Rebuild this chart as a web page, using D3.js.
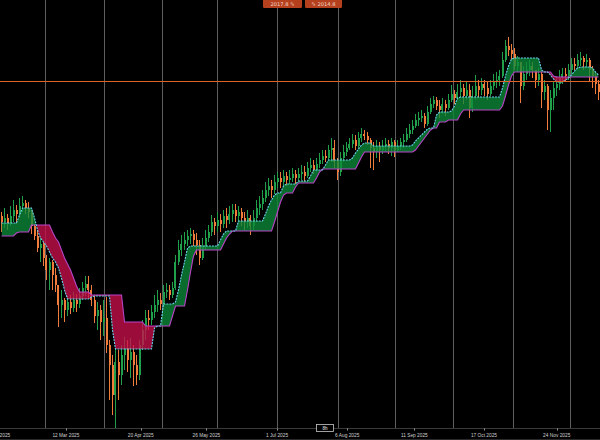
<!DOCTYPE html>
<html><head><meta charset="utf-8">
<script src="https://cdn.jsdelivr.net/npm/d3@7"></script>
<style>html,body{margin:0;padding:0;background:#000;overflow:hidden}</style>
</head><body><svg id="c" width="600" height="440"></svg>
<script>
// ---------------- DATA ----------------
const opens = [
1884,1878,1882,1876,1884,1890,1886,1894,1897,1892,
1888,1874,1864,1852,1856,1842,1830,1838,1825,1815,
1795,1800,1790,1798,1792,1800,1796,1804,1812,1816,
1810,1800,1784,1790,1778,1782,1755,1735,1705,1738,
1725,1745,1752,1740,1748,1735,1725,1755,1770,1782,
1780,1788,1795,1800,1796,1808,1810,1805,1812,1838,
1850,1856,1860,1864,1866,1860,1855,1842,1854,1862,
1868,1878,1874,1880,1876,1884,1880,1886,1890,1884,
1888,1882,1878,1882,1874,1882,1892,1896,1902,1910,
1914,1910,1918,1922,1918,1924,1920,1922,1926,1922,
1926,1928,1924,1932,1935,1930,1936,1940,1944,1942,
1950,1952,1938,1928,1942,1948,1952,1956,1960,1954,
1962,1966,1964,1960,1952,1948,1954,1950,1954,1956,
1952,1958,1950,1954,1958,1960,1966,1970,1974,1980,
1982,1984,1976,1988,1996,2000,1994,1990,1996,1992,
2000,2006,2002,2008,2012,2004,2010,1992,2004,2014,
2010,2016,2012,2006,2014,2018,2020,2024,2040,2054,
2050,2046,2034,2038,2014,2026,2030,2034,2030,2020,
2026,2008,2014,1990,2002,2012,2016,2022,2026,2024,
2030,2036,2034,2040,2042,2038,2040,2030,2024,2016];
const highs = [
1888,1892,1886,1894,1900,1895,1902,1904,1900,1898,
1890,1876,1870,1862,1858,1845,1842,1840,1832,1815,
1810,1802,1804,1805,1808,1806,1812,1818,1824,1824,
1815,1804,1798,1795,1800,1803,1760,1745,1752,1750,
1755,1763,1760,1762,1755,1745,1760,1780,1790,1790,
1795,1805,1810,1807,1815,1817,1815,1818,1845,1860,
1865,1868,1870,1872,1870,1867,1860,1862,1870,1875,
1885,1882,1888,1886,1890,1892,1894,1896,1896,1894,
1892,1888,1890,1885,1890,1900,1904,1910,1918,1922,
1920,1925,1928,1928,1930,1928,1930,1932,1930,1932,
1935,1934,1938,1942,1940,1942,1947,1950,1950,1955,
1962,1960,1942,1948,1955,1958,1962,1966,1965,1968,
1972,1970,1968,1962,1958,1960,1958,1960,1962,1960,
1962,1960,1960,1962,1966,1972,1976,1980,1986,1988,
1990,1987,1994,2002,2004,2003,2000,2002,2000,2006,
2015,2010,2016,2020,2016,2018,2016,2014,2025,2020,
2022,2020,2018,2020,2026,2028,2030,2048,2060,2063,
2056,2052,2044,2038,2034,2038,2040,2038,2030,2032,
2028,2020,2016,2010,2018,2024,2030,2032,2032,2036,
2042,2042,2046,2048,2044,2046,2042,2034,2028,2020];
const lows = [
1868,1872,1870,1874,1878,1876,1882,1888,1886,1882,
1866,1860,1848,1838,1834,1820,1810,1810,1808,1773,
1782,1778,1784,1786,1788,1788,1792,1800,1804,1802,
1794,1777,1770,1760,1764,1747,1700,1685,1672,1700,
1715,1730,1728,1722,1714,1715,1720,1750,1760,1770,
1775,1782,1788,1790,1794,1802,1800,1802,1810,1835,
1844,1850,1854,1856,1854,1845,1835,1840,1850,1858,
1864,1865,1868,1868,1872,1872,1876,1878,1878,1878,
1874,1870,1872,1865,1870,1878,1885,1890,1898,1904,
1902,1906,1912,1912,1914,1914,1916,1918,1916,1918,
1920,1918,1922,1928,1926,1928,1932,1936,1938,1940,
1938,1932,1920,1924,1938,1944,1950,1952,1950,1952,
1958,1960,1955,1932,1930,1942,1938,1946,1948,1946,
1944,1943,1948,1950,1952,1958,1962,1966,1972,1974,
1978,1972,1974,1986,1992,1990,1982,1986,1984,1990,
1998,1996,2000,2002,1996,2000,1982,1988,2000,2002,
2005,2004,2000,2004,2010,2012,2014,2022,2038,2044,
2040,2030,2028,1997,2010,2020,2024,2022,2012,2014,
1992,2000,1970,1968,1990,2004,2010,2016,2018,2020,
2026,2030,2032,2034,2030,2032,2018,2012,2006,2000];
const closes = [
1878,1882,1876,1884,1890,1886,1894,1897,1892,1888,
1874,1864,1852,1856,1842,1830,1838,1825,1815,1795,
1800,1790,1798,1792,1800,1796,1804,1812,1816,1810,
1800,1784,1790,1778,1782,1755,1735,1705,1738,1725,
1745,1752,1740,1748,1735,1725,1755,1770,1782,1780,
1788,1795,1800,1796,1808,1810,1805,1812,1838,1850,
1856,1860,1864,1866,1860,1855,1842,1854,1862,1868,
1878,1874,1880,1876,1884,1880,1886,1890,1884,1888,
1882,1878,1882,1874,1882,1892,1896,1902,1910,1914,
1910,1918,1922,1918,1924,1920,1922,1926,1922,1926,
1928,1924,1932,1935,1930,1936,1940,1944,1942,1950,
1952,1938,1928,1942,1948,1952,1956,1960,1954,1962,
1966,1964,1960,1952,1948,1954,1950,1954,1956,1952,
1958,1950,1954,1958,1960,1966,1970,1974,1980,1982,
1984,1976,1988,1996,2000,1994,1990,1996,1992,2000,
2006,2002,2008,2012,2004,2010,1992,2004,2014,2010,
2016,2012,2006,2014,2018,2020,2024,2040,2054,2050,
2046,2034,2038,2014,2026,2030,2034,2030,2020,2026,
2008,2014,1990,2002,2012,2016,2022,2026,2024,2030,
2036,2034,2040,2042,2038,2040,2030,2024,2016,2008];
// cloud lines: fast (cyan) and slow (magenta)
const fastSpan = [
1877,1877,1877,1877,1877,1877,1885,1892,1892,1892,
1892,1882,1870,1862,1858,1854,1848,1842,1838,1832,
1822,1810,1801,1801,1801,1801,1801,1801,1801,1801,
1803,1804,1804,1804,1804,1804,1804,1770,1751,1751,
1751,1751,1751,1751,1751,1751,1751,1751,1751,1751,
1751,1772,1774,1774,1796,1796,1796,1796,1798,1810,
1825,1838,1852,1854,1854,1854,1854,1854,1854,1854,
1854,1854,1854,1860,1866,1869,1869,1869,1869,1879,
1879,1879,1879,1879,1879,1879,1879,1879,1886,1894,
1900,1905,1907,1907,1914,1916,1916,1916,1916,1919,
1919,1919,1919,1924,1930,1930,1930,1930,1935,1940,
1940,1940,1940,1940,1940,1940,1940,1942,1947,1951,
1955,1957,1957,1957,1954,1954,1954,1954,1954,1954,
1954,1954,1954,1954,1954,1954,1954,1955,1959,1962,
1965,1968,1971,1972,1972,1985,1988,1988,1988,1988,
1989,1994,2002,2003,2003,2003,2003,2003,2003,2003,
2003,2003,2003,2003,2003,2003,2003,2012,2024,2034,
2041,2042,2042,2042,2042,2042,2042,2042,2042,2042,
2030,2028,2028,2025,2021,2018,2018,2018,2020,2022,
2025,2029,2032,2033,2033,2033,2033,2032,2028,2025];
const slowSpan = [
1864,1864,1864,1864,1864,1867,1868,1868,1868,1868,
1875,1875,1875,1875,1875,1875,1875,1868,1862,1858,
1850,1842,1836,1830,1822,1814,1808,1808,1808,1808,
1805,1805,1805,1805,1805,1805,1805,1805,1805,1805,
1805,1778,1778,1778,1778,1778,1778,1778,1774,1774,
1774,1774,1774,1774,1774,1774,1774,1784,1794,1794,
1794,1794,1810,1828,1844,1850,1850,1850,1850,1850,
1850,1850,1850,1850,1856,1862,1866,1869,1869,1869,
1869,1869,1869,1869,1869,1869,1869,1869,1869,1869,
1869,1878,1888,1898,1905,1907,1907,1907,1913,1917,
1917,1917,1917,1917,1917,1922,1928,1931,1931,1931,
1931,1931,1931,1931,1931,1931,1931,1931,1931,1937,
1943,1948,1948,1948,1948,1948,1948,1948,1948,1948,
1948,1948,1948,1948,1948,1948,1948,1948,1950,1954,
1958,1962,1966,1970,1972,1972,1978,1978,1978,1980,
1980,1980,1980,1986,1990,1990,1990,1990,1990,1990,
1990,1990,1990,1990,1990,1990,1990,1994,2004,2015,
2024,2028,2028,2028,2028,2028,2028,2028,2028,2028,
2028,2028,2028,2028,2024,2023,2023,2023,2023,2023,
2023,2023,2023,2023,2023,2023,2023,2023,2023,2023];
const lastPrice = 2019.5;
const monthStarts = ["2025-03-01","2025-04-01","2025-05-01","2025-06-01","2025-07-01",
  "2025-08-01","2025-09-01","2025-10-01","2025-11-01","2025-12-01"];
const tickDates = ["2025-02-04","2025-03-12","2025-04-20","2025-05-26","2025-07-01",
  "2025-08-06","2025-09-11","2025-10-17","2025-11-24"];
const tickLabels = ["4 Feb 2025","12 Mar 2025","20 Apr 2025","26 May 2025","1 Jul 2025",
  "6 Aug 2025","11 Sep 2025","17 Oct 2025","24 Nov 2025"];
const rangeLabels = ["2017.8 \u270E", "\u270E 2014.8"];
const intervalLabel = "8h";

// ---------------- CHART ----------------
const W = 600, H = 440, plotBottom = 428;
const svg = d3.select("#c");
svg.append("rect").attr("width", W).attr("height", H).attr("fill", "#000");

const n = closes.length;
const x = d3.scaleLinear().domain([0, n - 1]).range([1.5, W - 1.5]);
const y = d3.scaleLinear().domain([1660, 2100]).range([H, 0]);
const pd = d3.utcParse("%Y-%m-%d");
// calendar axis calibrated at month boundaries
const t = d3.scaleUtc()
  .domain([pd("2025-02-05")].concat(monthStarts.map(pd), [pd("2025-12-16")]))
  .range([0, 45, 104, 162, 217, 277, 338, 395, 453, 513, 570, 600]);

const defs = svg.append("defs");
defs.append("clipPath").attr("id", "plot").append("rect")
  .attr("x", 0).attr("y", 0).attr("width", W).attr("height", plotBottom);

const plot = svg.append("g").attr("clip-path", "url(#plot)");

// month grid
plot.append("g").selectAll("line").data(monthStarts).join("line")
  .attr("x1", d => Math.round(t(pd(d))) + 0.5).attr("x2", d => Math.round(t(pd(d))) + 0.5)
  .attr("y1", 0).attr("y2", plotBottom)
  .attr("stroke", "#5e5e5e").attr("stroke-width", 1);

// candles
const idx = d3.range(n);
const up = i => closes[i] >= opens[i];
const cUp = "#21a04c", cDn = "#f07d3c";
const cg = plot.append("g");
cg.selectAll("line").data(idx).join("line")
  .attr("x1", i => Math.round(x(i) - 0.5) + 0.5).attr("x2", i => Math.round(x(i) - 0.5) + 0.5)
  .attr("y1", i => y(highs[i])).attr("y2", i => y(lows[i]))
  .attr("stroke", i => up(i) ? cUp : cDn).attr("stroke-width", 1);
cg.selectAll("rect").data(idx).join("rect")
  .attr("x", i => Math.round(x(i) - 1))
  .attr("width", 2)
  .attr("y", i => y(Math.max(opens[i], closes[i])))
  .attr("height", i => Math.max(1, Math.abs(y(opens[i]) - y(closes[i]))))
  .attr("fill", i => up(i) ? cUp : cDn);

// cloud
const band = d3.area().x(i => x(i)).y0(i => y(fastSpan[i])).y1(i => y(slowSpan[i])).curve(d3.curveLinear);
const aboveSlow = d3.area().x(i => x(i)).y0(0).y1(i => y(slowSpan[i]));
const belowSlow = d3.area().x(i => x(i)).y0(H).y1(i => y(slowSpan[i]));
defs.append("clipPath").attr("id", "above").append("path").attr("d", aboveSlow(idx));
defs.append("clipPath").attr("id", "below").append("path").attr("d", belowSlow(idx));
plot.append("path").attr("d", band(idx)).attr("fill", "#0b8a3a").attr("fill-opacity", 0.78)
  .attr("clip-path", "url(#above)");
plot.append("path").attr("d", band(idx)).attr("fill", "#c8104a").attr("fill-opacity", 0.78)
  .attr("clip-path", "url(#below)");
plot.append("path").attr("d", d3.line().x(i => x(i)).y(i => y(slowSpan[i]))(idx))
  .attr("fill", "none").attr("stroke", "#b845c8").attr("stroke-width", 1.1);
plot.append("path").attr("d", d3.line().x(i => x(i)).y(i => y(fastSpan[i]))(idx))
  .attr("fill", "none").attr("stroke", "#6cd4ee").attr("stroke-width", 1.1)
  .attr("stroke-dasharray", "2,1");

// last price line
plot.append("line").attr("x1", 0).attr("x2", W)
  .attr("y1", Math.round(y(lastPrice)) + 0.5).attr("y2", Math.round(y(lastPrice)) + 0.5)
  .attr("stroke", "#dc6428").attr("stroke-width", 1);

// bottom time axis
svg.append("line").attr("x1", 0).attr("x2", W).attr("y1", plotBottom + 0.5).attr("y2", plotBottom + 0.5)
  .attr("stroke", "#3a3a3a");
svg.append("line").attr("x1", 0).attr("x2", W).attr("y1", H - 0.5).attr("y2", H - 0.5)
  .attr("stroke", "#2a2a2a");
const ax = svg.append("g");
ax.selectAll("line").data(tickDates).join("line")
  .attr("x1", d => Math.round(t(pd(d))) + 0.5).attr("x2", d => Math.round(t(pd(d))) + 0.5)
  .attr("y1", plotBottom + 0.5).attr("y2", plotBottom + 2.5).attr("stroke", "#9a9a9a");
ax.selectAll("text").data(tickDates).join("text")
  .attr("x", d => t(pd(d))).attr("y", 436.5)
  .attr("text-anchor", "middle")
  .attr("font-family", "Liberation Sans, Arial, sans-serif").attr("font-size", 4.8)
  .attr("fill", "#cfcfcf")
  .text((d, i) => tickLabels[i]);

// interval marker
const ib = svg.append("g");
ib.append("rect").attr("x", 316.5).attr("y", 424.5).attr("width", 17).attr("height", 7)
  .attr("fill", "#000").attr("stroke", "#c8c8c8").attr("stroke-width", 0.8);
ib.append("text").attr("x", 325).attr("y", 429.8).attr("text-anchor", "middle")
  .attr("font-family", "Liberation Sans, Arial, sans-serif").attr("font-size", 4.5)
  .attr("fill", "#eeeeee").text(intervalLabel);

// top range markers
const boxes = [{x: 263, w: 39}, {x: 305, w: 37}];
const tb = svg.append("g");
boxes.forEach((b, i) => {
  tb.append("rect").attr("x", b.x).attr("y", -2).attr("width", b.w).attr("height", 10)
    .attr("rx", 1.5).attr("fill", "#b5401d");
  tb.append("text").attr("x", b.x + b.w / 2).attr("y", 5.6).attr("text-anchor", "middle")
    .attr("font-family", "DejaVu Sans, sans-serif").attr("font-size", 5.2)
    .attr("fill", "#f3d6c8").text(rangeLabels[i]);
});
</script></body></html>
